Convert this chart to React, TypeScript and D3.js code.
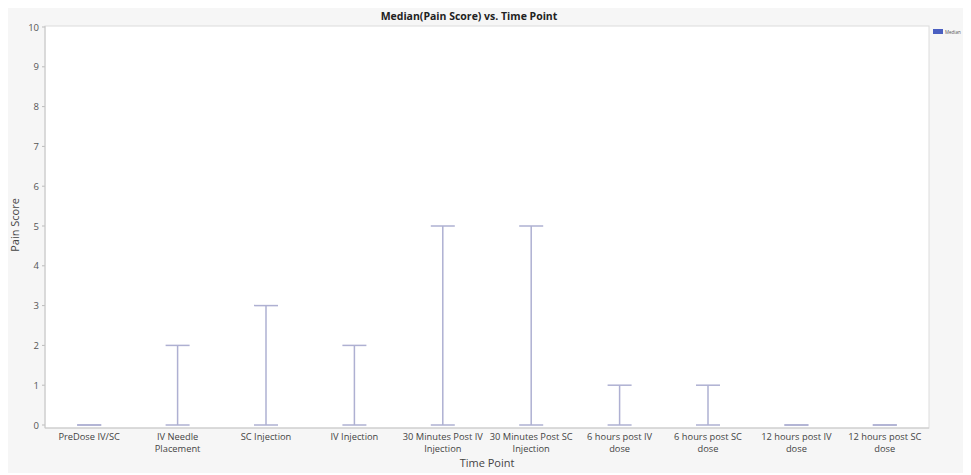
import React from "react";
import * as d3 from "d3";

const categories = [
  ["PreDose IV/SC"],
  ["IV Needle", "Placement"],
  ["SC Injection"],
  ["IV Injection"],
  ["30 Minutes Post IV", "Injection"],
  ["30 Minutes Post SC", "Injection"],
  ["6 hours post IV", "dose"],
  ["6 hours post SC", "dose"],
  ["12 hours post IV", "dose"],
  ["12 hours post SC", "dose"],
];
const medianValues = [0, 0, 0, 0, 0, 0, 0, 0, 0, 0];
const lowValues = [0, 0, 0, 0, 0, 0, 0, 0, 0, 0];
const highValues = [0, 2, 3, 2, 5, 5, 1, 1, 0, 0];
const yTicks = [0, 1, 2, 3, 4, 5, 6, 7, 8, 9, 10];

const W = 971;
const H = 475;
const plot = { left: 45, right: 929, top: 26, bottom: 428 };

export default function App() {
  const keys = categories.map((_, i) => String(i));
  const x = d3.scaleBand().domain(keys).range([plot.left, plot.right]).padding(0);
  const y = d3.scaleLinear().domain([0, 10]).range([425, 27]);
  const font = "'Open Sans', 'Noto Sans', sans-serif";
  const barColor = "#aeb0d2";
  const capHalf = 12;

  return (
    <svg
      width={W}
      height={H}
      style={{ position: "absolute", left: 0, top: 0, background: "#ffffff" }}
      fontFamily={font}
    >
      <rect x={8} y={8} width={955} height={465} fill="#f6f6f6" />
      <rect
        x={plot.left}
        y={plot.top}
        width={plot.right - plot.left}
        height={plot.bottom - plot.top}
        fill="#ffffff"
        stroke="#dcdcdc"
        strokeWidth={1}
      />
      <text x={469} y={20} textAnchor="middle" fontSize={10.5} fontWeight="bold" fill="#222">
        Median(Pain Score) vs. Time Point
      </text>
      {yTicks.map((t) => (
        <g key={t}>
          <line x1={plot.left - 3} x2={plot.left} y1={y(t)} y2={y(t)} stroke="#bbb" />
          <text x={plot.left - 6} y={y(t) + 3.5} textAnchor="end" fontSize={9.5} fill="#555">
            {t}
          </text>
        </g>
      ))}
      <line x1={plot.left} x2={plot.left} y1={plot.top} y2={plot.bottom} stroke="#c8c8c8" />
      <line x1={plot.left} x2={plot.right} y1={plot.bottom} y2={plot.bottom} stroke="#c8c8c8" />
      {categories.map((lines, i) => {
        const cx = (x(String(i)) as number) + x.bandwidth() / 2;
        return (
          <g key={i}>
            <rect
              x={cx - 20}
              y={y(medianValues[i])}
              width={40}
              height={y(0) - y(medianValues[i])}
              fill="#4a5fc1"
            />
            {highValues[i] > lowValues[i] && (
              <line
                x1={cx}
                x2={cx}
                y1={y(lowValues[i])}
                y2={y(highValues[i])}
                stroke={barColor}
                strokeWidth={1.5}
              />
            )}
            <line
              x1={cx - capHalf}
              x2={cx + capHalf}
              y1={y(highValues[i])}
              y2={y(highValues[i])}
              stroke={barColor}
              strokeWidth={1.5}
            />
            <line
              x1={cx - capHalf}
              x2={cx + capHalf}
              y1={y(lowValues[i])}
              y2={y(lowValues[i])}
              stroke={barColor}
              strokeWidth={1.5}
            />
            {lines.map((ln, j) => (
              <text
                key={j}
                x={cx}
                y={440 + j * 12}
                textAnchor="middle"
                fontSize={9.3}
                fill="#444"
              >
                {ln}
              </text>
            ))}
          </g>
        );
      })}
      <text x={487} y={467} textAnchor="middle" fontSize={11} fill="#444">
        Time Point
      </text>
      <text
        transform={`translate(19, 225) rotate(-90)`}
        textAnchor="middle"
        fontSize={11}
        fill="#444"
      >
        Pain Score
      </text>
      <rect x={933} y={29} width={10} height={5} fill="#4a5fc1" />
      <text x={945} y={34} fontSize={4.5} fill="#555">
        Median
      </text>
    </svg>
  );
}
